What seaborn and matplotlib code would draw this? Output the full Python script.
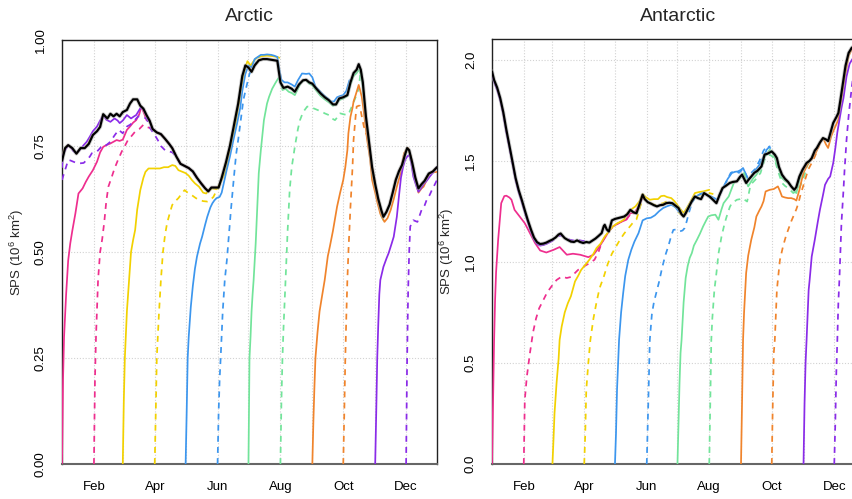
import matplotlib
matplotlib.use("Agg")
import matplotlib.pyplot as plt
import matplotlib.patheffects as pe
import pandas as pd
import seaborn as sns

# ---------------- categories / ticks ----------------
MONTHS = ["Jan", "Feb", "Mar", "Apr", "May", "Jun", "Jul", "Aug", "Sep", "Oct", "Nov", "Dec"]
MONTH_START = [1, 32, 60, 91, 121, 152, 182, 213, 244, 274, 305, 335]
TICK_DAYS = [32, 91, 152, 213, 274, 335]
TICK_LABELS = ["Feb", "Apr", "Jun", "Aug", "Oct", "Dec"]
ARC_YTICKS = [0.0, 0.25, 0.5, 0.75, 1.0]
ARC_YLABELS = ["0.00", "0.25", "0.50", "0.75", "1.00"]
ANT_YTICKS = [0.0, 0.5, 1.0, 1.5, 2.0]
ANT_YLABELS = ["0.0", "0.5", "1.0", "1.5", "2.0"]
INIT_COLORS = {"Jan": "#EE2E8E", "Feb": "#EE2E8E", "Mar": "#F2D100", "Apr": "#F2D100",
               "May": "#3C96EE", "Jun": "#3C96EE", "Jul": "#72E49A", "Aug": "#72E49A",
               "Sep": "#F0842C", "Oct": "#F0842C", "Nov": "#8A2BE8", "Dec": "#8A2BE8"}

# ---------------- Arctic: observed ----------------
ARC_OBS_DAY = [1,4,7,11,15,19,23,27,31,35,38,41,45,48,51,54,57,60,64,67,70,74,77,80,83,86,89,93,97,101,
               105,108,112,116,120,124,128,132,136,140,143,146,150,153,156,160,164,168,172,176,179,182,185,188,
               192,196,200,205,210,213,216,220,224,227,231,235,238,241,244,248,252,256,260,264,267,270,274,278,
               281,284,287,289,291,293,296,299,302,305,308,311,313,316,319,322,325,328,331,334,336,338,341,344,
               347,350,353,357,361,365]
ARC_OBS = [0.715,0.745,0.752,0.745,0.732,0.745,0.745,0.755,0.776,0.785,0.795,0.825,0.815,0.826,0.82,0.826,0.82,
           0.83,0.835,0.85,0.86,0.86,0.845,0.838,0.823,0.81,0.79,0.782,0.778,0.767,0.755,0.745,0.725,0.708,0.703,
           0.698,0.69,0.675,0.662,0.65,0.643,0.652,0.652,0.652,0.675,0.71,0.75,0.80,0.85,0.915,0.94,0.935,0.925,
           0.94,0.952,0.955,0.955,0.953,0.951,0.9,0.887,0.89,0.885,0.878,0.895,0.905,0.906,0.9,0.897,0.885,0.874,
           0.865,0.858,0.848,0.848,0.862,0.865,0.87,0.9,0.922,0.93,0.943,0.93,0.9,0.82,0.76,0.70,0.66,0.625,0.598,
           0.583,0.595,0.612,0.64,0.67,0.69,0.705,0.73,0.745,0.74,0.71,0.675,0.65,0.66,0.668,0.685,0.69,0.70]

# ---------------- Arctic: forecasts ----------------
ARC_JAN_DAY = [1,2,3,5,7,9,11,14,17,21,24,27,31,35,38,41,44,48,51,54,57,60,64,67,70,73,76,78,81,83]
ARC_JAN = [0,0.2,0.3,0.4,0.48,0.52,0.55,0.591,0.638,0.65,0.665,0.678,0.693,0.713,0.735,0.748,0.752,0.756,0.76,
           0.764,0.762,0.765,0.788,0.796,0.805,0.811,0.825,0.843,0.825,0.811]
ARC_JAN_JOIN = (86, 150)
ARC_FEB_DAY = [32,33,34,36,38,40,42,44,46,49,52,55,59,62,65,69,72,76,80,83,87,91,95,98]
ARC_FEB = [0,0.2,0.3,0.434,0.5,0.53,0.57,0.62,0.654,0.675,0.697,0.715,0.737,0.75,0.764,0.775,0.784,0.79,0.8,
           0.795,0.792,0.785,0.78,0.775]
ARC_FEB_JOIN = (101, 153)
ARC_MAR_DAY = [60,61,62,64,66,68,70,72,74,77,80,82,85,90,96,100,104,108,111,114,117,121,124,127,130,134,138,141,
               143,147,151,154,156,159,161,164,168,172,176,179,181,184,187,190,195,200,205,210,212]
ARC_MAR = [0,0.15,0.25,0.36,0.43,0.5,0.528,0.552,0.6,0.646,0.675,0.689,0.697,0.697,0.697,0.70,0.70,0.705,0.703,
           0.693,0.69,0.686,0.68,0.67,0.662,0.654,0.64,0.638,0.645,0.65,0.648,0.66,0.67,0.685,0.70,0.74,0.78,0.84,
           0.90,0.935,0.95,0.94,0.95,0.958,0.962,0.963,0.962,0.96,0.958]
ARC_APR_DAY = [91,92,93,95,97,99,101,103,106,108,111,114,117,120,123,127,131,134,138,142,145,148,151]
ARC_APR = [0,0.12,0.25,0.35,0.434,0.5,0.54,0.568,0.595,0.611,0.62,0.627,0.637,0.646,0.64,0.634,0.627,0.623,0.62,
           0.619,0.623,0.63,0.645]
ARC_APR_JOIN = (153, 200)
ARC_MAY_DAY = [121,122,123,124,126,128,130,132,135,137,140,142,145,147,149,151,154,156,158,161,164,167,171,174,176,
               179,182,185,188,191,194,197,200,204,207,210,212,214,217,220,224,227,230,234,238,241,244,247,251,255,
               259,262,265,268,271,274,277,280]
ARC_MAY = [0,0.12,0.25,0.3,0.37,0.42,0.46,0.489,0.52,0.536,0.565,0.583,0.605,0.615,0.622,0.627,0.63,0.64,0.662,
           0.695,0.725,0.76,0.804,0.84,0.88,0.92,0.94,0.935,0.955,0.96,0.965,0.965,0.966,0.965,0.963,0.96,0.93,
           0.906,0.9,0.9,0.895,0.89,0.905,0.921,0.92,0.921,0.912,0.89,0.88,0.87,0.862,0.855,0.855,0.865,0.868,
           0.87,0.88,0.905]
ARC_JUN_DAY = [152,153,154,155,157,159,161,163,165,168,170,172,175,177,180,183,186,189,192]
ARC_JUN = [0,0.12,0.2,0.25,0.36,0.434,0.48,0.54,0.6,0.68,0.73,0.764,0.82,0.858,0.89,0.92,0.935,0.945,0.96]
ARC_JUL_DAY = [182,183,184,185,186,187,189,192,194,197,200,202,205,208,211,213,215,218,221,224,227,230,233,236,238,
               241,244,248,252,256,260,264,267,270,274,278,281,284,287,289,291,293,296,299,302,305,308,311,313]
ARC_JUL = [0,0.25,0.3,0.36,0.4,0.434,0.52,0.686,0.74,0.811,0.85,0.866,0.885,0.898,0.91,0.905,0.882,0.885,0.878,
           0.875,0.87,0.885,0.9,0.905,0.905,0.897,0.893,0.88,0.868,0.86,0.853,0.845,0.848,0.858,0.862,0.868,0.895,
           0.915,0.922,0.93,0.92,0.89,0.81,0.75,0.69,0.65,0.615,0.585,0.575]
ARC_AUG_DAY = [213,214,215,216,218,220,222,224,227,230,232,235,239,242,245,249,253,256,260,263,266,269,271,274,278,
               280,283,286,289]
ARC_AUG = [0,0.15,0.25,0.32,0.434,0.55,0.646,0.7,0.748,0.79,0.811,0.83,0.843,0.842,0.839,0.835,0.831,0.827,0.823,
           0.815,0.811,0.82,0.827,0.825,0.823,0.83,0.847,0.865,0.885]
ARC_AUG_JOIN = (291, 325)
ARC_SEP_DAY = [244,245,246,247,249,251,253,256,259,261,264,268,271,274,276,278,279,281,283,284,286,289,290,292,294,
               297,300,302,305,307,310,314,317,320,323,326,329,333,335,337,340,342,345,347,350,352,355,358,362,365]
ARC_SEP = [0,0.1,0.18,0.25,0.31,0.36,0.39,0.434,0.49,0.513,0.55,0.607,0.64,0.67,0.7,0.74,0.78,0.819,0.84,0.855,
           0.87,0.894,0.885,0.866,0.83,0.768,0.72,0.67,0.64,0.618,0.59,0.571,0.58,0.599,0.625,0.654,0.68,0.733,
           0.74,0.745,0.72,0.693,0.66,0.64,0.65,0.654,0.67,0.686,0.688,0.689]
ARC_SEP_WRAP_DAY = [1,3,5,7,9,11,13,15,17,19,21,23,25,27,29,31]
ARC_SEP_WRAP = [0.712,0.74,0.748,0.752,0.748,0.743,0.738,0.732,0.738,0.745,0.745,0.745,0.75,0.757,0.77,0.776]
ARC_OCT_DAY = [274,275,276,277,278,279,281,283,284,286,287,289,290,292,294]
ARC_OCT = [0,0.12,0.25,0.35,0.434,0.5,0.607,0.7,0.764,0.82,0.843,0.845,0.845,0.82,0.796]
ARC_OCT_JOIN = (297, 365)
ARC_NOV_DAY = [305,306,307,308,309,310,313,316,318,321,323,326,328,330,332,334,336,338,340,342,345,347,350,352,355,
               358,362,365]
ARC_NOV = [0,0.12,0.25,0.33,0.4,0.434,0.465,0.485,0.497,0.52,0.536,0.583,0.63,0.675,0.7,0.717,0.725,0.729,0.71,
           0.678,0.655,0.642,0.652,0.66,0.668,0.678,0.69,0.701]
ARC_NOV_WRAP_DAY = [1,2,4,7,10,12,15,18,22,25,28,31,35,38,41,44,48,52,55,57,60,64,68,71,73,76,78,80]
ARC_NOV_WRAP = [0.70,0.729,0.74,0.752,0.745,0.738,0.733,0.74,0.752,0.76,0.772,0.785,0.796,0.81,0.823,0.812,0.807,
                0.815,0.81,0.804,0.81,0.823,0.815,0.82,0.823,0.835,0.843,0.835]
ARC_DEC_DAY = [335,336,337,338,339,340,342,346,350,353,355,358,360,363,365]
ARC_DEC = [0,0.25,0.41,0.5,0.56,0.565,0.575,0.571,0.599,0.61,0.623,0.635,0.646,0.66,0.67]
ARC_DEC_WRAP_DAY = [1,2,5,7,9,12,15,18,22,25,28,30,33,35,38,40,44,47,49,52,56,60,64,67,69,72,75,79,83,87,90,94,97,
                    101,104,108,112]
ARC_DEC_WRAP = [0.67,0.678,0.701,0.717,0.716,0.713,0.71,0.709,0.71,0.717,0.725,0.733,0.735,0.737,0.745,0.752,0.752,
                0.758,0.764,0.775,0.788,0.78,0.796,0.8,0.804,0.812,0.82,0.818,0.815,0.79,0.78,0.764,0.75,0.74,0.738,
                0.735,0.725]

# ---------------- Antarctic: observed ----------------
ANT_OBS_DAY = [1,3,6,9,12,15,18,21,24,27,30,33,36,39,42,45,48,51,54,57,60,63,66,68,70,72,75,78,81,84,87,90,93,96,
               99,102,105,108,110,111,113,115,118,121,124,127,130,133,136,139,142,145,148,150,153,156,159,162,165,
               168,171,174,177,180,183,186,188,190,193,196,199,202,205,208,211,214,217,220,223,226,229,233,236,240,
               243,245,247,249,252,254,257,260,264,267,270,274,277,279,281,284,287,290,293,296,298,301,304,308,311,
               313,316,318,321,324,327,329,332,334,337,339,341,344,346,349,352,355,360,365]
ANT_OBS = [1.942,1.90,1.862,1.81,1.74,1.653,1.575,1.495,1.415,1.355,1.307,1.255,1.205,1.16,1.12,1.097,1.088,1.09,
           1.095,1.103,1.11,1.12,1.135,1.14,1.128,1.117,1.108,1.1,1.098,1.106,1.098,1.093,1.098,1.095,1.105,1.115,
           1.128,1.142,1.175,1.183,1.16,1.15,1.205,1.212,1.216,1.22,1.224,1.235,1.257,1.245,1.24,1.285,1.332,1.31,
           1.295,1.288,1.28,1.274,1.28,1.282,1.29,1.292,1.29,1.278,1.266,1.235,1.224,1.24,1.27,1.3,1.323,1.315,1.31,
           1.34,1.33,1.32,1.305,1.29,1.33,1.365,1.375,1.39,1.395,1.398,1.42,1.431,1.41,1.39,1.41,1.422,1.44,1.45,
           1.472,1.53,1.535,1.546,1.53,1.513,1.47,1.431,1.41,1.395,1.373,1.356,1.37,1.422,1.455,1.489,1.5,1.513,
           1.55,1.563,1.59,1.612,1.605,1.597,1.65,1.687,1.715,1.736,1.8,1.9,1.97,2.033,2.058,2.07,2.08,2.09]

# ---------------- Antarctic: forecasts ----------------
ANT_JAN_DAY = [1,2,3,4,5,7,10,13,15,18,20,23,28,33,38,43,48,54,61,67,74,80,87,95,100,105,110,115,119,126,132,136,
               140,144,147,150]
ANT_JAN = [0,0.3,0.6,0.81,0.95,1.109,1.29,1.325,1.327,1.318,1.307,1.257,1.224,1.191,1.142,1.093,1.056,1.046,1.059,
           1.073,1.035,1.04,1.035,1.023,1.035,1.068,1.109,1.15,1.175,1.195,1.208,1.241,1.24,1.274,1.323,1.31]
ANT_FEB_DAY = [32,33,35,38,41,44,47,50,55,59,64,69,74,78,85,90,95,101,105,108,111,115,119,126,132,136,140,144,148]
ANT_FEB = [0,0.317,0.432,0.548,0.65,0.72,0.77,0.80,0.85,0.878,0.91,0.927,0.92,0.925,0.96,0.975,0.99,1.01,1.05,
           1.093,1.12,1.15,1.175,1.195,1.208,1.235,1.24,1.27,1.32]
ANT_MAR_DAY = [60,61,62,64,66,67,69,72,75,78,82,85,88,92,96,100,103,107,111,115,119,123,127,130,133,137,141,145,
               148,151,155,159,163,166,169,172,176,179,182,185,188,191,195,199,203,207,210,213]
ANT_MAR = [0,0.12,0.25,0.4,0.52,0.614,0.68,0.75,0.795,0.83,0.903,0.93,0.96,0.985,1.01,1.04,1.068,1.09,1.125,1.15,
           1.175,1.19,1.2,1.21,1.24,1.26,1.274,1.3,1.335,1.32,1.307,1.31,1.31,1.325,1.327,1.32,1.315,1.3,1.28,1.26,
           1.241,1.265,1.3,1.34,1.345,1.348,1.352,1.356]
ANT_APR_DAY = [91,92,93,95,97,100,103,106,110,114,118,122,126,130,134,138,142,146,149,152,156,160,164,168,172,176,
               180,184,188,193,198,203,208,213,217]
ANT_APR = [0,0.15,0.366,0.5,0.614,0.72,0.8,0.87,0.925,0.99,1.04,1.075,1.11,1.14,1.165,1.19,1.21,1.28,1.32,1.3,1.29,
           1.28,1.285,1.29,1.3,1.29,1.27,1.24,1.225,1.27,1.32,1.33,1.34,1.34,1.335]
ANT_MAY_DAY = [121,122,123,125,127,129,131,134,137,140,144,148,152,156,160,164,168,172,176,180,183,186,188,191,194,
               197,200,204,207,211,215,218,221,224,228,231,235,238,241,244,246,249,251,254,256,259,262,266,269,272]
ANT_MAY = [0,0.15,0.366,0.614,0.75,0.845,0.93,1.01,1.06,1.1,1.142,1.205,1.215,1.218,1.23,1.25,1.266,1.275,1.282,
           1.27,1.25,1.235,1.224,1.25,1.282,1.3,1.323,1.335,1.34,1.33,1.323,1.315,1.307,1.34,1.381,1.41,1.439,1.445,
           1.447,1.455,1.464,1.43,1.406,1.42,1.439,1.46,1.48,1.52,1.554,1.571]
ANT_JUN_DAY = [152,153,154,155,157,159,161,164,167,170,173,176,178,181,184,187,189,191,193,196,199,203,207,211,214,
               218,222,226,230,234,238,242,246,250,254,258,262,266,270,273]
ANT_JUN = [0,0.2,0.4,0.614,0.74,0.8,0.84,0.9,0.97,1.03,1.076,1.13,1.158,1.16,1.15,1.155,1.167,1.2,1.24,1.29,1.32,
           1.33,1.34,1.33,1.315,1.31,1.32,1.36,1.4,1.44,1.45,1.44,1.46,1.42,1.44,1.46,1.5,1.55,1.575,1.56]
ANT_JUL_DAY = [182,183,184,185,186,188,190,192,194,196,198,201,204,207,210,212,215,219,222,225,227,230,232,234,237,
               240,242,245,247,249,251,253,256,259,261,264,266,269,272,275,277,280,284,287,290,293,296,298,301,304,306]
ANT_JUL = [0,0.2,0.4,0.55,0.614,0.8,0.92,0.98,1.02,1.043,1.08,1.109,1.14,1.175,1.205,1.224,1.23,1.233,1.208,1.26,
           1.29,1.31,1.323,1.35,1.39,1.4,1.406,1.43,1.439,1.4,1.373,1.39,1.414,1.43,1.447,1.47,1.513,1.53,1.554,1.54,
           1.513,1.47,1.414,1.4,1.39,1.373,1.35,1.34,1.406,1.44,1.455]
ANT_AUG_DAY = [213,214,215,216,218,220,222,225,228,230,233,235,238,240,243,245,248,250,253,255,258,260,263,267,270,
               272,275,277,280,284,287,290,293,295,298,300,303,306,309,312]
ANT_AUG = [0,0.3,0.614,0.72,0.86,0.944,1.04,1.125,1.19,1.224,1.27,1.29,1.3,1.307,1.31,1.315,1.305,1.298,1.373,1.39,
           1.406,1.42,1.439,1.505,1.52,1.53,1.52,1.505,1.45,1.39,1.375,1.365,1.35,1.34,1.35,1.356,1.39,1.43,1.48,1.5]
ANT_SEP_DAY = [244,245,246,247,249,251,254,257,259,262,264,266,268,270,272,276,280,282,284,287,290,293,296,298,301,
               303,305,308,311,313,316,318,321,324,327,329,332,334,337,339,341,344,347,349,352,356,360,365]
ANT_SEP = [0,0.3,0.614,0.75,0.944,1.03,1.109,1.17,1.224,1.255,1.274,1.3,1.348,1.352,1.356,1.36,1.373,1.35,1.323,
           1.318,1.315,1.315,1.31,1.303,1.356,1.4,1.44,1.472,1.5,1.505,1.53,1.55,1.587,1.612,1.58,1.563,1.62,1.646,
           1.68,1.703,1.77,1.868,1.96,2.018,2.05,2.07,2.08,2.09]
ANT_OCT_DAY = [274,275,276,277,279,280,282,285,288,290,293,295,298,300,302,305,308,310,313,316,318,321,324]
ANT_OCT = [0,0.3,0.55,0.614,0.86,0.911,1.01,1.076,1.13,1.158,1.2,1.224,1.26,1.29,1.33,1.38,1.43,1.46,1.489,1.52,
           1.545,1.585,1.61]
ANT_NOV_DAY = [305,306,307,308,310,311,313,316,319,321,324,326,329,331,334,336,338,340,342,344,347,350,353,357,361,365]
ANT_NOV = [0,0.3,0.5,0.614,0.86,0.911,1.026,1.109,1.2,1.257,1.33,1.381,1.41,1.422,1.489,1.56,1.64,1.7,1.76,1.81,
           1.917,1.98,2.005,2.03,2.05,2.06]
ANT_NOV_WRAP_DAY = [1,3,6,9,12,15,18,21,24,27,30,33,36,39,42,45,48,51,54,57,60]
ANT_NOV_WRAP = [1.935,1.89,1.85,1.8,1.73,1.64,1.565,1.485,1.405,1.345,1.297,1.245,1.195,1.15,1.11,1.088,1.08,1.083,
                1.088,1.096,1.104]
ANT_DEC_DAY = [335,336,337,338,339,340,341,342,344,345,347,349,350,352,353,356,360,365]
ANT_DEC = [0,0.2,0.45,0.614,0.8,0.911,1.05,1.191,1.356,1.45,1.604,1.72,1.769,1.86,1.9,1.95,1.98,2.0]
ANT_DEC_WRAP_DAY = [1,3,6,9,12,15,18,21,24,27,30,33,36,39,42,45,48,51,54,57,60,63,66,69,72,75,78,81,84,87,90,93,96]
ANT_DEC_WRAP = [1.93,1.895,1.855,1.805,1.735,1.648,1.57,1.49,1.41,1.35,1.302,1.25,1.2,1.155,1.115,1.092,1.083,1.085,
                1.09,1.098,1.105,1.115,1.128,1.13,1.12,1.112,1.108,1.105,1.11,1.106,1.103,1.106,1.11]

ARC_SPECS = [
    ("Sep", "solid", ARC_SEP_WRAP_DAY, ARC_SEP_WRAP, None),
    ("Nov", "solid", ARC_NOV_WRAP_DAY, ARC_NOV_WRAP, None),
    ("Dec", "dashed", ARC_DEC_WRAP_DAY, ARC_DEC_WRAP, None),
    ("Jan", "solid", ARC_JAN_DAY, ARC_JAN, ARC_JAN_JOIN),
    ("Feb", "dashed", ARC_FEB_DAY, ARC_FEB, ARC_FEB_JOIN),
    ("Mar", "solid", ARC_MAR_DAY, ARC_MAR, None),
    ("Apr", "dashed", ARC_APR_DAY, ARC_APR, ARC_APR_JOIN),
    ("May", "solid", ARC_MAY_DAY, ARC_MAY, None),
    ("Jun", "dashed", ARC_JUN_DAY, ARC_JUN, None),
    ("Jul", "solid", ARC_JUL_DAY, ARC_JUL, None),
    ("Aug", "dashed", ARC_AUG_DAY, ARC_AUG, ARC_AUG_JOIN),
    ("Sep", "solid", ARC_SEP_DAY, ARC_SEP, None),
    ("Oct", "dashed", ARC_OCT_DAY, ARC_OCT, ARC_OCT_JOIN),
    ("Nov", "solid", ARC_NOV_DAY, ARC_NOV, None),
    ("Dec", "dashed", ARC_DEC_DAY, ARC_DEC, None),
]
ANT_SPECS = [
    ("Nov", "solid", ANT_NOV_WRAP_DAY, ANT_NOV_WRAP, None),
    ("Dec", "dashed", ANT_DEC_WRAP_DAY, ANT_DEC_WRAP, None),
    ("Jan", "solid", ANT_JAN_DAY, ANT_JAN, None),
    ("Feb", "dashed", ANT_FEB_DAY, ANT_FEB, None),
    ("Mar", "solid", ANT_MAR_DAY, ANT_MAR, None),
    ("Apr", "dashed", ANT_APR_DAY, ANT_APR, None),
    ("May", "solid", ANT_MAY_DAY, ANT_MAY, None),
    ("Jun", "dashed", ANT_JUN_DAY, ANT_JUN, None),
    ("Jul", "solid", ANT_JUL_DAY, ANT_JUL, None),
    ("Aug", "dashed", ANT_AUG_DAY, ANT_AUG, None),
    ("Sep", "solid", ANT_SEP_DAY, ANT_SEP, None),
    ("Oct", "dashed", ANT_OCT_DAY, ANT_OCT, None),
    ("Nov", "solid", ANT_NOV_DAY, ANT_NOV, None),
    ("Dec", "dashed", ANT_DEC_DAY, ANT_DEC, None),
]


def build_frame(specs, obs_day, obs_val):
    rows = []
    for seg, (init, kind, days, vals, join) in enumerate(specs):
        d = list(days)
        v = list(vals)
        assert len(d) == len(v), (init, kind, len(d), len(v))
        if join is not None:
            a, b = join
            for dd, vv in zip(obs_day, obs_val):
                if a <= dd <= b:
                    d.append(dd)
                    v.append(vv)
        for dd, vv in zip(d, v):
            rows.append((seg, init, kind, dd, vv))
    return pd.DataFrame(rows, columns=["seg", "init", "kind", "day", "sps"])


sns.set_style("white")
plt.rcParams["font.family"] = ["Liberation Sans", "DejaVu Sans"]
plt.rcParams["mathtext.default"] = "regular"

fig = plt.figure(figsize=(8.53, 4.99), dpi=100)
ax_arc = fig.add_axes([62 / 853, 35 / 499, 375 / 853, 424 / 499])
ax_ant = fig.add_axes([492 / 853, 35 / 499, 373 / 853, 424.6 / 499])

panels = [
    (ax_arc, "Arctic", ARC_SPECS, ARC_OBS_DAY, ARC_OBS, (0, 1.0), ARC_YTICKS, ARC_YLABELS),
    (ax_ant, "Antarctic", ANT_SPECS, ANT_OBS_DAY, ANT_OBS, (0, 2.1), ANT_YTICKS, ANT_YLABELS),
]

grid_kw = dict(color="#d2d2d2", linestyle=(0, (1, 1.6)), linewidth=0.8)

for ax, title, specs, od, ov, ylim, yt, yl in panels:
    df = build_frame(specs, od, ov)
    sns.lineplot(data=df, x="day", y="sps", hue="init", style="kind", units="seg",
                 estimator=None, hue_order=MONTHS, style_order=["solid", "dashed"],
                 palette=INIT_COLORS, dashes={"solid": "", "dashed": (3.4, 3.0)},
                 linewidth=1.25, legend=False, ax=ax, sort=False, zorder=3)
    sns.lineplot(x=od, y=ov, color="black", linewidth=1.55, estimator=None, ax=ax, zorder=5,
                 path_effects=[pe.Stroke(linewidth=2.8, foreground="#a8a8a8", alpha=0.6), pe.Normal()])

    ax.set_xlim(1, 365)
    ax.set_ylim(*ylim)
    ax.set_xticks(TICK_DAYS)
    ax.set_xticklabels(TICK_LABELS)
    ax.set_xticks(MONTH_START, minor=True)
    ax.set_yticks(yt)
    ax.set_yticklabels(yl, rotation=90, va="center")
    ax.grid(True, which="both", axis="x", **grid_kw)
    ax.grid(True, which="major", axis="y", **grid_kw)
    ax.set_axisbelow(True)
    ax.tick_params(axis="x", which="minor", length=0)
    ax.tick_params(axis="both", which="major", direction="out", length=5.8, width=1.1,
                   color="#666666", labelsize=9.5, pad=5, labelcolor="black")
    ax.tick_params(axis="x", which="major", pad=6.5)
    for name, sp in ax.spines.items():
        sp.set_visible(True)
        sp.set_color("#222222")
        sp.set_linewidth(1.0)
    ax.spines["bottom"].set_color("#666666")
    ax.spines["bottom"].set_linewidth(1.5)
    ax.set_title(title, fontsize=14, pad=13.5)
    ax.set_xlabel("")
    ax.set_ylabel("SPS (10$^6$ km$^2$)", fontsize=9.5)
    ax.yaxis.set_label_coords(-0.097, 0.5)

fig.savefig("out.png", dpi=100)
